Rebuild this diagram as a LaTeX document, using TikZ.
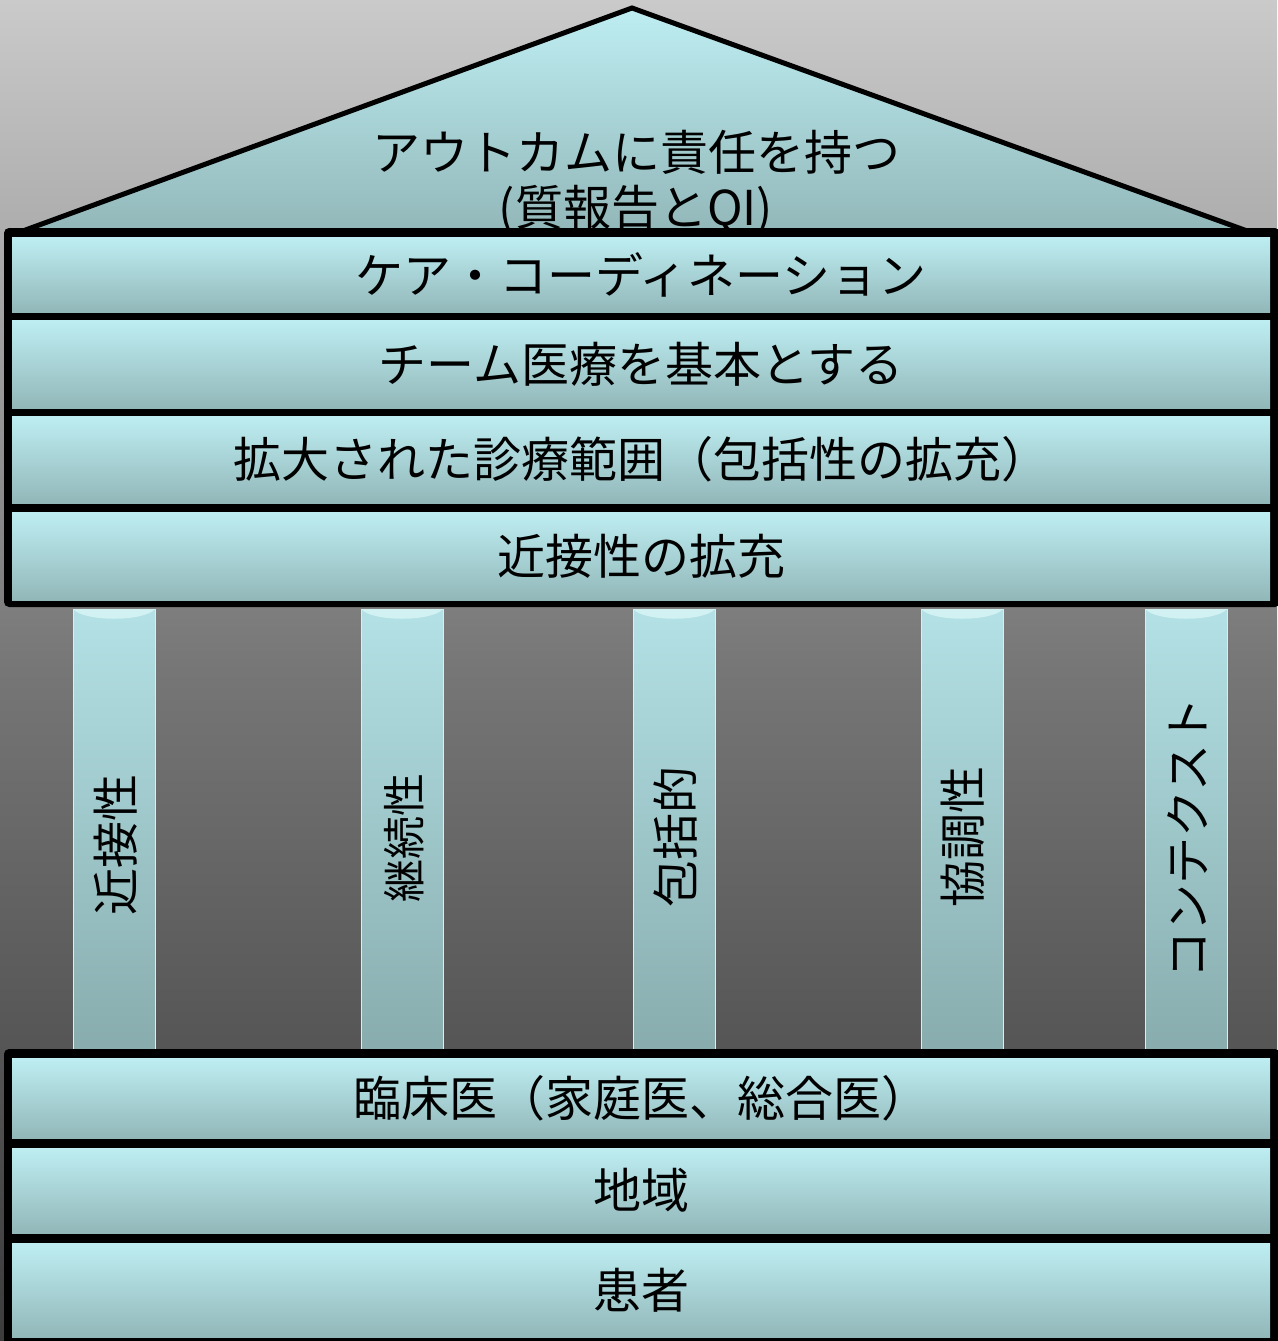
\documentclass[tikz,border=0pt]{standalone}
\usepackage{fontspec}
\setmainfont{Noto Sans CJK JP}
\definecolor{bandtop}{HTML}{BEEEF2}
\definecolor{bandbot}{HTML}{92B7B9}
\definecolor{piltop}{HTML}{B3E1E5}
\definecolor{pilbot}{HTML}{88ACAE}
\definecolor{pilcap}{HTML}{D2F1F3}
\definecolor{bgtop}{HTML}{CACACA}
\definecolor{bgmid}{HTML}{767676}
\definecolor{bgbot}{HTML}{3C3C3C}
\tikzset{
  band/.style={rectangle, inner sep=0pt, top color=bandtop, bottom color=bandbot,
    minimum width=1258pt, font=\fontsize{48}{52}\selectfont, text=black},
  pillar/.style={top color=piltop, bottom color=pilbot, draw=pilcap, line width=1pt},
  piltext/.style={rotate=90, inner sep=0pt, font=\fontsize{47}{50}\selectfont, text=black},
  frame/.style={fill=black, rounded corners=5pt}
}
\begin{document}
\begin{tikzpicture}[x=1pt,y=-1pt]
\useasboundingbox (0,0) rectangle (1277,1341);
% background
\shade[top color=bgtop, bottom color=bgbot, middle color=bgmid] (0,0) rectangle (1277,1341);
% roof
\shade[top color=bandtop, bottom color=bandbot] (632,8) -- (1250,232) -- (20,232) -- cycle;
\draw[line width=5pt, line join=miter] (20,232) -- (632,8) -- (1250,232);
\node[align=center, inner sep=0pt, font=\fontsize{48}{55}\selectfont] (roof) at (636,183)
  {アウトカムに責任を持つ\\(質報告とQI)};
% pillars
\foreach \cx in {114,402,674,962,1186}{
  \shade[pillar] (\cx-41,609) rectangle (\cx+41,1052);
  \fill[pilcap] (\cx-41,609) .. controls (\cx-30,622) and (\cx+30,622) .. (\cx+41,609) -- cycle;
}
\node[piltext] (t1) at (116,845) {近接性};
\node[piltext, font=\fontsize{43}{46}\selectfont] (t2) at (404,838) {継続性};
\node[piltext] (t3) at (676,837) {包括的};
\node[piltext] (t4) at (963,837) {協調性};
\node[piltext] (t5) at (1188,838) {コンテクスト};
% upper block
\fill[frame] (4,228) rectangle (1280,607);
\node[band, minimum height=75pt] (b1) at (641,274.5) {ケア・コーディネーション};
\node[band, minimum height=88pt] (b2) at (641,364) {チーム医療を基本とする};
\node[band, minimum height=87pt] (b3) at (641,459.5) {拡大された診療範囲（包括性の拡充）};
\node[band, minimum height=88pt] (b4) at (641,556) {近接性の拡充};
% lower block
\fill[frame] (4,1049) rectangle (1280,1348);
\node[band, minimum height=80pt] (c1) at (641,1098) {臨床医（家庭医、総合医）};
\node[band, minimum height=85pt] (c2) at (641,1190.5) {地域};
\node[band, minimum height=94pt] (c3) at (641,1290) {患者};
\end{tikzpicture}
\end{document}
